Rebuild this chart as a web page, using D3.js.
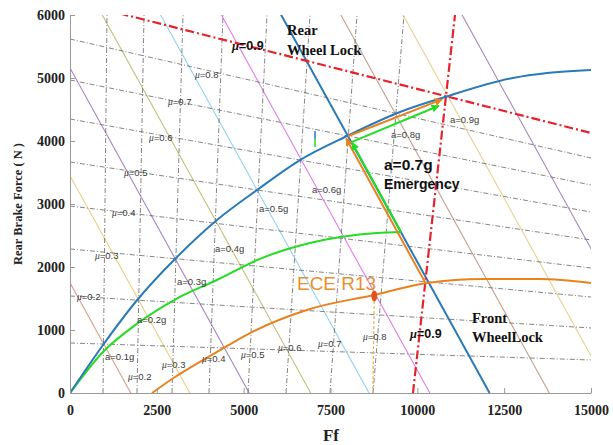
<!DOCTYPE html>
<html>
<head>
  <meta charset="utf-8">
  <script src="https://cdn.jsdelivr.net/npm/d3@7/dist/d3.min.js"></script>
  <style>
    body { margin: 0; background: #fff; }
    .tick text { font-family: "Liberation Serif", "Times New Roman", serif; font-weight: bold; font-size: 14px; fill: #222; }
    .small { font-family: "Liberation Sans", Arial, sans-serif; font-size: 9.5px; fill: #3a3a3a; }
    .mu { font-family: "Liberation Serif", serif; font-style: italic; }
  </style>
</head>
<body>
  <svg id="chart" width="613" height="445"></svg>
  <script>
    // 数据：理想制动力分配曲线（I曲线）等，单位 N
    var iCurveFf = [0, 950, 1958, 3052, 4232, 5384, 6622, 7975, 9501, 10797, 12750, 13733, 15000];
    var iCurveFr = [0, 762, 1492, 2143, 2746, 3222, 3698, 4079, 4460, 4698, 5000, 5079, 5127];

    var greenFf = [0, 950, 1958, 3052, 4232, 5470, 6910, 8840, 9530];
    var greenFr = [0, 651, 1111, 1492, 1794, 2130, 2381, 2540, 2556];

    var eceFf = [2361, 2937, 4232, 5183, 6910, 8753, 10280, 11891, 13532, 15000];
    var eceFr = [0, 222, 651, 952, 1333, 1556, 1746, 1810, 1810, 1746];

    // 等减速度线 Ff + Fr = const
    var decelLabels = ["0.1", "0.2", "0.3", "0.4", "0.5", "0.6", "0.7", "0.8", "0.9", "1.0"];
    var decelSums = [1750, 3450, 5160, 6930, 8610, 10360, 12080, 13800, 15590, 17290];
    var decelColors = ["#d9a090", "#e8cf80", "#a583c0", "#c2c079", "#8fd3f0", "#e07ce8", "#2a7ab8", "#c4a090", "#e8d090", "#a58ab8"];

    // f 线 (前轮抱死)：Fr=0 与 Fr=6000 处的 Ff
    var muList = ["0.1", "0.2", "0.3", "0.4", "0.5", "0.6", "0.7", "0.8", "0.9"];
    var fLineBottom = [950, 1929, 2937, 4002, 5125, 6219, 7486, 8724, 9875];
    var fLineTop = [1065, 2131, 3253, 4405, 5672, 6910, 8263, 9616, 11084];

    // r 线 (后轮抱死)：Ff=0 与 Ff=15000 处的 Fr
    var rLineLeft = [794, 1540, 2286, 2968, 3667, 4349, 4968, 5619, 6225];
    var rLineRight = [524, 1032, 1524, 1984, 2429, 2873, 3302, 3730, 4127];

    // 箭头
    var orangeArrows = [[[10220, 1760], [7950, 4040]], [[8000, 4075], [10710, 4660]]];
    var greenArrows = [[[9530, 2556], [8120, 3975]], [[8120, 3985], [10620, 4560]]];

    var eceMark = [8760, 1540];

    var xTicks = [0, 2500, 5000, 7500, 10000, 12500, 15000];
    var yTicks = [0, 1000, 2000, 3000, 4000, 5000, 6000];

    var svg = d3.select("#chart");
    var x = d3.scaleLinear().domain([0, 15000]).range([70, 591]);
    var y = d3.scaleLinear().domain([0, 6000]).range([393, 15]);

    svg.append("clipPath").attr("id", "plot")
      .append("rect").attr("x", 70).attr("y", 15).attr("width", 521).attr("height", 378);

    var g = svg.append("g").attr("clip-path", "url(#plot)");

    // 等减速度线
    g.selectAll(".decel").data(decelSums).enter().append("line")
      .attr("x1", function(d) { return x(0); })
      .attr("y1", function(d) { return y(d); })
      .attr("x2", function(d) { return x(d); })
      .attr("y2", function(d) { return y(0); })
      .attr("stroke", function(d, i) { return decelColors[i]; })
      .attr("stroke-width", function(d, i) { return i == 6 ? 2 : 1.1; });

    // f 线
    g.selectAll(".fline").data(fLineBottom).enter().append("line")
      .attr("x1", function(d) { return x(d); })
      .attr("y1", y(0))
      .attr("x2", function(d, i) { return x(fLineTop[i]); })
      .attr("y2", y(6000))
      .attr("stroke", function(d, i) { return i == 8 ? "#e8202a" : "#666"; })
      .attr("stroke-width", function(d, i) { return i == 8 ? 2.2 : 0.8; })
      .attr("stroke-dasharray", function(d, i) { return i == 8 ? "9,3,2,3" : "5,2,1,2"; });

    // r 线
    g.selectAll(".rline").data(rLineLeft).enter().append("line")
      .attr("x1", x(0))
      .attr("y1", function(d) { return y(d); })
      .attr("x2", x(15000))
      .attr("y2", function(d, i) { return y(rLineRight[i]); })
      .attr("stroke", function(d, i) { return i == 8 ? "#e8202a" : "#666"; })
      .attr("stroke-width", function(d, i) { return i == 8 ? 2.2 : 0.8; })
      .attr("stroke-dasharray", function(d, i) { return i == 8 ? "9,3,2,3" : "5,2,1,2"; });

    // ECE 竖向虚线
    g.append("line")
      .attr("x1", x(eceMark[0])).attr("y1", y(eceMark[1]))
      .attr("x2", x(eceMark[0] - 40)).attr("y2", y(0))
      .attr("stroke", "#e8b050").attr("stroke-width", 1.2).attr("stroke-dasharray", "3,2");

    var line = d3.line()
      .x(function(d) { return x(d[0]); })
      .y(function(d) { return y(d[1]); })
      .curve(d3.curveMonotoneX);

    function pts(a, b) { return a.map(function(v, i) { return [v, b[i]]; }); }

    g.append("path").attr("d", line(pts(eceFf, eceFr)))
      .attr("fill", "none").attr("stroke", "#e8821e").attr("stroke-width", 2);
    g.append("path").attr("d", line(pts(greenFf, greenFr)))
      .attr("fill", "none").attr("stroke", "#22dd22").attr("stroke-width", 2);
    g.append("path").attr("d", line(pts(iCurveFf, iCurveFr)))
      .attr("fill", "none").attr("stroke", "#2a7ab8").attr("stroke-width", 2);

    // 箭头
    var defs = svg.append("defs");
    [["arrO", "#e8821e"], ["arrG", "#22dd22"]].forEach(function(m) {
      defs.append("marker").attr("id", m[0])
        .attr("viewBox", "0 0 10 10").attr("refX", 9).attr("refY", 5)
        .attr("markerWidth", 4).attr("markerHeight", 4).attr("orient", "auto")
        .append("path").attr("d", "M0,0L10,5L0,10z").attr("fill", m[1]);
    });
    orangeArrows.forEach(function(a) {
      svg.append("line")
        .attr("x1", x(a[0][0])).attr("y1", y(a[0][1]))
        .attr("x2", x(a[1][0])).attr("y2", y(a[1][1]))
        .attr("stroke", "#e8821e").attr("stroke-width", 2).attr("marker-end", "url(#arrO)");
    });
    greenArrows.forEach(function(a) {
      svg.append("line")
        .attr("x1", x(a[0][0])).attr("y1", y(a[0][1]))
        .attr("x2", x(a[1][0])).attr("y2", y(a[1][1]))
        .attr("stroke", "#22dd22").attr("stroke-width", 2).attr("marker-end", "url(#arrG)");
    });

    // 小标记
    svg.append("line").attr("x1", x(7054)).attr("x2", x(7054)).attr("y1", y(4160)).attr("y2", y(4030))
      .attr("stroke", "#2a7ab8").attr("stroke-width", 1.5);
    svg.append("line").attr("x1", x(7054)).attr("x2", x(7054)).attr("y1", y(4030)).attr("y2", y(3905))
      .attr("stroke", "#22dd22").attr("stroke-width", 1.5);

    svg.append("ellipse")
      .attr("cx", x(eceMark[0])).attr("cy", y(eceMark[1]))
      .attr("rx", 3).attr("ry", 5.5).attr("fill", "#e0561a");

    // 坐标轴
    var xAxis = svg.append("g").attr("transform", "translate(0,393)")
      .call(d3.axisBottom(x).tickValues(xTicks).tickFormat(d3.format("d"))
        .tickSizeInner(-5).tickSizeOuter(0).tickPadding(12));
    var yAxis = svg.append("g").attr("transform", "translate(70,0)")
      .call(d3.axisLeft(y).tickValues(yTicks).tickFormat(d3.format("d"))
        .tickSizeInner(-5).tickSizeOuter(0).tickPadding(5));
    svg.selectAll(".domain, .tick line").attr("stroke", "#999");
    svg.selectAll(".tick text").attr("font-family", null).attr("font-size", null);

    svg.append("text").attr("x", 331).attr("y", 441)
      .attr("text-anchor", "middle")
      .style("font-family", "Liberation Serif, serif").style("font-weight", "bold").style("font-size", "17px")
      .style("fill", "#222").text("Ff");
    svg.append("text").attr("transform", "translate(22,204) rotate(-90)")
      .attr("text-anchor", "middle")
      .style("font-family", "Liberation Serif, serif").style("font-weight", "bold").style("font-size", "12.5px")
      .style("fill", "#222").text("Rear Brake Force ( N )");

    // 标注
    var aLabelPos = [[1008, 524], [1929, 1111], [3081, 1714], [4175, 2238], [5441, 2873], [6967, 3175], null, [9242, 4048], [10940, 4286]];
    aLabelPos.forEach(function(p, i) {
      if (!p) return;
      svg.append("text").attr("class", "small").attr("x", x(p[0])).attr("y", y(p[1]))
        .text("a=" + decelLabels[i] + "g");
    });

    function muLabel(p, v, bold) {
      var t = svg.append("text").attr("class", "small").attr("x", x(p[0])).attr("y", y(p[1]));
      if (bold) t.style("font-size", "12.5px").style("font-weight", "bold").style("fill", "#111");
      t.append("tspan").attr("class", "mu").text("\u03bc");
      t.append("tspan").text("=" + v);
    }
    var rLabelPos = [null, [202, 1476], [720, 2127], [1209, 2810], [1555, 3444], [2274, 4000], [2821, 4571], [3599, 5000], [4664, 5444]];
    var fLabelPos = [null, [1670, 206], [2649, 397], [3800, 492], [4923, 556], [5988, 667], [7140, 730], [8435, 841], [9789, 873]];
    rLabelPos.forEach(function(p, i) { if (p) muLabel(p, muList[i], i == 8); });
    fLabelPos.forEach(function(p, i) { if (p) muLabel(p, muList[i], i == 8); });

    function serifLabel(p, s) {
      svg.append("text").attr("x", x(p[0])).attr("y", y(p[1]))
        .style("font-family", "Liberation Serif, serif").style("font-weight", "bold").style("font-size", "14.5px")
        .style("fill", "#111").text(s);
    }
    serifLabel([6247, 5683], "Rear");
    serifLabel([6247, 5365], "Wheel Lock");
    serifLabel([11574, 1111], "Front");
    serifLabel([11574, 810], "WheelLock");

    svg.append("text").attr("x", x(9040)).attr("y", y(3540))
      .style("font-family", "Liberation Sans, Arial, sans-serif").style("font-weight", "bold").style("font-size", "15.5px")
      .style("fill", "#111").text("a=0.7g");
    svg.append("text").attr("x", x(9040)).attr("y", y(3238))
      .style("font-family", "Liberation Sans, Arial, sans-serif").style("font-weight", "bold").style("font-size", "14px")
      .style("fill", "#111").text("Emergency");
    svg.append("text").attr("x", x(6535)).attr("y", y(1635))
      .style("font-family", "Liberation Sans, Arial, sans-serif").style("font-size", "19px")
      .style("fill", "#e8902e").text("ECE R13");
  </script>
</body>
</html>
